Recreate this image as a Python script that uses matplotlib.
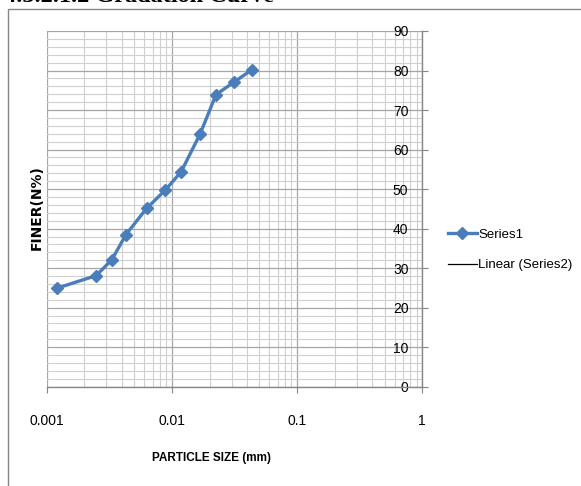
import matplotlib
matplotlib.use("Agg")
import matplotlib.pyplot as plt
from matplotlib.patches import Rectangle
from matplotlib.ticker import LogLocator, MultipleLocator, FixedLocator, NullFormatter
from matplotlib import font_manager


# particle size (mm) vs percent finer
particle_size = [0.0012, 0.00248, 0.00331, 0.0043, 0.00627, 0.00883,
                 0.01186, 0.01683, 0.0225, 0.0311, 0.0436]
percent_finer = [24.9, 28.1, 32.1, 38.5, 45.1, 49.7,
                 54.4, 64.0, 73.9, 77.0, 80.2]

x_ticks = [0.001, 0.01, 0.1, 1]
x_tick_labels = ["0.001", "0.01", "0.1", "1"]
y_ticks = [0, 10, 20, 30, 40, 50, 60, 70, 80, 90]

series_labels = ["Series1", "Linear (Series2)"]


def pick_font(names, fallback="DejaVu Sans"):
    available = {f.name for f in font_manager.fontManager.ttflist}
    for n in names:
        if n in available:
            return n
    return fallback


sans = pick_font(["Liberation Sans Narrow", "Liberation Sans"])
serif = pick_font(["Liberation Serif", "DejaVu Serif"])

W, H = 581, 486
fig = plt.figure(figsize=(W / 100, H / 100), dpi=100)

left, right = 46.7 / W, 422.3 / W
bottom, top = (H - 386.7) / H, (H - 31) / H
ax = fig.add_axes([left, bottom, right - left, top - bottom])

blue = "#4a7ebb"
ax.plot(particle_size, percent_finer, color=blue, lw=2.4,
        marker="D", markersize=6.5, markeredgecolor=blue,
        markerfacecolor=blue, label=series_labels[0], zorder=3)
ax.plot([], [], color="black", lw=0.9, label=series_labels[1])

ax.set_xscale("log")
ax.set_xlim(0.001, 1)
ax.set_ylim(0, 90)

ax.xaxis.set_major_locator(FixedLocator(x_ticks))
ax.set_xticklabels(x_tick_labels)
ax.xaxis.set_minor_locator(LogLocator(base=10, subs=range(2, 10)))
ax.xaxis.set_minor_formatter(NullFormatter())
ax.yaxis.set_major_locator(FixedLocator(y_ticks))
ax.yaxis.set_minor_locator(MultipleLocator(2))

ax.grid(which="major", color="#a6a6a6", lw=0.9)
ax.grid(which="minor", color="#cfcfcf", lw=0.8)
ax.set_axisbelow(True)

axis_grey = "#868686"
for side in ["top", "left"]:
    ax.spines[side].set_visible(False)
for side in ["bottom", "right"]:
    ax.spines[side].set_color(axis_grey)
    ax.spines[side].set_linewidth(1.0)

# y axis sits at x = 1 with its labels on the inner side
ax.yaxis.tick_right()
ax.tick_params(axis="y", which="major", direction="out", length=4,
               color=axis_grey, pad=-14, labelsize=10)
ax.tick_params(axis="y", which="minor", length=0)
for lab in ax.get_yticklabels():
    lab.set_horizontalalignment("right")
    lab.set_fontfamily(sans)

ax.tick_params(axis="x", which="major", direction="out", length=4,
               color=axis_grey, pad=16, labelsize=10)
ax.tick_params(axis="x", which="minor", length=0)
for lab in ax.get_xticklabels():
    lab.set_fontfamily(sans)

fig.text(211 / W, 1 - 458 / H, "PARTICLE SIZE (mm)", ha="center", va="center",
         fontsize=8.5, fontweight="bold", family=sans)
fig.text(37 / W, 1 - 207.5 / H, "FINER(N%)", ha="center", va="center",
         rotation=90, fontsize=10, fontweight="bold", family="DejaVu Sans")

leg = fig.legend(loc="center left", bbox_to_anchor=(436 / W, 1 - 250 / H),
                 frameon=False, handlelength=2.2, handletextpad=0.1,
                 labelspacing=1.35, prop={"family": sans, "size": 9.5})

# chart area border and the cut-off section heading above it
fig.patches.append(Rectangle((8 / W, -0.1), 1.0, (H - 8.7) / H + 0.1,
                             transform=fig.transFigure, fill=False,
                             ec=axis_grey, lw=1.0))
fig.text(4 / W, 1 - 1.5 / H, "4.3.2.1.2 Gradation Curve", ha="left",
         va="baseline", fontsize=17.5, fontweight="bold", family=serif)

fig.savefig("out.png", dpi=100)
